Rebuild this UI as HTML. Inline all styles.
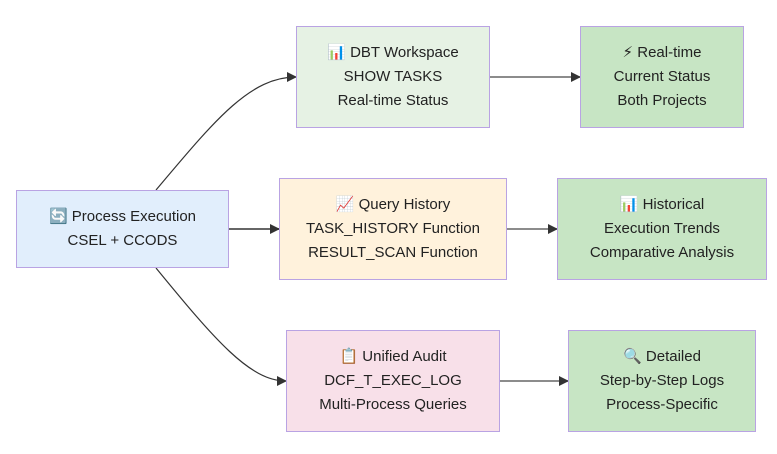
<!DOCTYPE html>
<html><head><style>
body{margin:0;width:777px;height:454px;background:#fff;overflow:hidden;position:relative;font-family:"Liberation Sans","DejaVu Sans",sans-serif;}
.n{position:absolute;box-sizing:border-box;border:1.5px solid #b9a3e3;display:flex;flex-direction:column;justify-content:center;align-items:center;font-size:15px;color:#222;line-height:24px;text-align:center;}
svg{position:absolute;left:0;top:0}
</style></head><body>
<svg width="777" height="454">
<defs><marker id="a" markerWidth="10" markerHeight="10" refX="9" refY="5" orient="auto" markerUnits="userSpaceOnUse"><path d="M0,0L10,5L0,10z" fill="#333"/></marker></defs>
<g fill="none" stroke="#333" stroke-width="1.2">
<path d="M156,190 C215,120 250,77 296,77" marker-end="url(#a)"/>
<path d="M229,229 L279,229" marker-end="url(#a)" stroke="#666" stroke-width="2"/>
<path d="M156,268 C215,340 250,381 286,381" marker-end="url(#a)"/>
<path d="M490,77 L580,77" marker-end="url(#a)" stroke="#666" stroke-width="1.5"/>
<path d="M507,229 L557,229" marker-end="url(#a)" stroke="#666" stroke-width="1.5"/>
<path d="M500,381 L568,381" marker-end="url(#a)" stroke="#666" stroke-width="1.5"/>
</g></svg>
<div class="n" style="left:16px;top:190px;width:213px;height:78px;background:#e1eefc">🔄 Process Execution<br>CSEL + CCODS</div>
<div class="n" style="left:296px;top:26px;width:194px;height:102px;background:#e6f2e4">📊 DBT Workspace<br>SHOW TASKS<br>Real-time Status</div>
<div class="n" style="left:279px;top:178px;width:228px;height:102px;background:#fff2dc">📈 Query History<br>TASK_HISTORY Function<br>RESULT_SCAN Function</div>
<div class="n" style="left:286px;top:330px;width:214px;height:102px;background:#f8e0e9">📋 Unified Audit<br>DCF_T_EXEC_LOG<br>Multi-Process Queries</div>
<div class="n" style="left:580px;top:26px;width:164px;height:102px;background:#c7e5c4">⚡ Real-time<br>Current Status<br>Both Projects</div>
<div class="n" style="left:557px;top:178px;width:210px;height:102px;background:#c7e5c4">📊 Historical<br>Execution Trends<br>Comparative Analysis</div>
<div class="n" style="left:568px;top:330px;width:188px;height:102px;background:#c7e5c4">🔍 Detailed<br>Step-by-Step Logs<br>Process-Specific</div>
</body></html>
